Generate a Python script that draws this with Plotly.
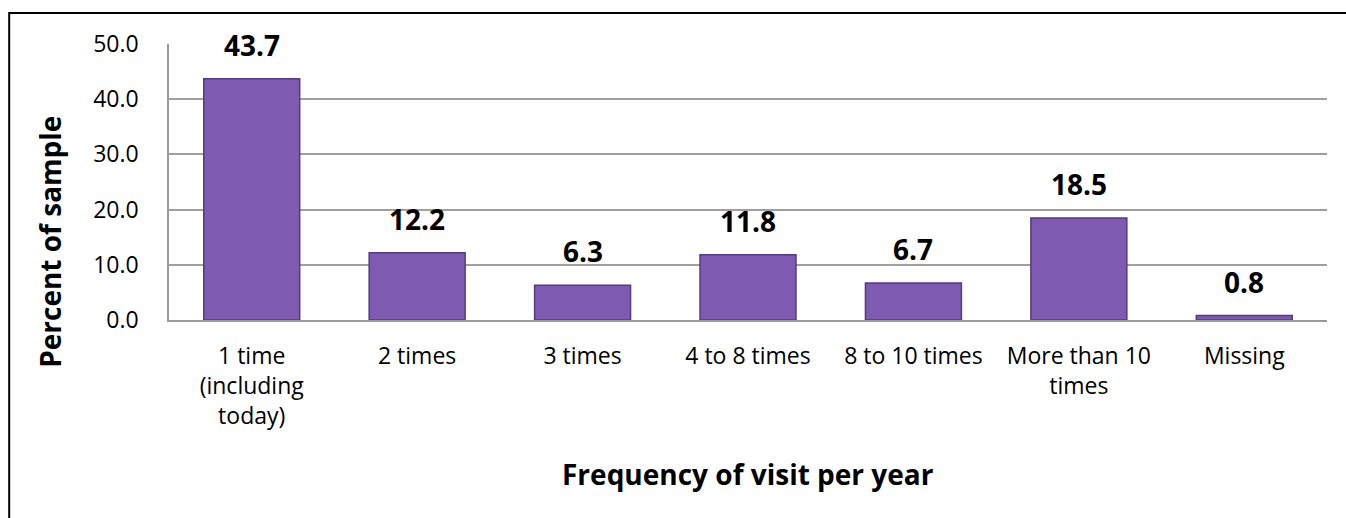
import plotly.graph_objects as go

categories = ["1 time<br>(including<br>today)", "2 times", "3 times", "4 to 8 times",
              "8 to 10 times", "More than 10<br>times", "Missing"]
values = [43.7, 12.2, 6.3, 11.8, 6.7, 18.5, 0.8]
y_ticks = [0, 10, 20, 30, 40, 50]
y_tick_labels = ["0.0", "10.0", "20.0", "30.0", "40.0", "50.0"]

FONT = "'Open Sans', sans-serif"

fig = go.Figure()
fig.add_trace(go.Bar(
    x=categories, y=values,
    marker=dict(color="#7E5AB1", line=dict(color="#563A80", width=1.5)),
    width=0.58,
))

for c, v in zip(categories, values):
    fig.add_annotation(x=c, y=v, text="<b>%.1f</b>" % v, showarrow=False,
                       yanchor="bottom", yshift=13,
                       font=dict(family=FONT, size=28, color="black"))

# axis titles
fig.add_annotation(xref="paper", yref="paper", x=-0.1028, y=0.283,
                   text="<b>Percent of sample</b>", textangle=-90, showarrow=False,
                   xanchor="center", yanchor="middle",
                   font=dict(family=FONT, size=28, color="black"))
fig.add_annotation(xref="paper", yref="paper", x=0.5, y=-0.558,
                   text="<b>Frequency of visit per year</b>", showarrow=False,
                   xanchor="center", yanchor="middle",
                   font=dict(family=FONT, size=28, color="black"))

# outer chart border
fig.add_shape(type="rect", xref="paper", yref="paper",
              x0=-0.138, x1=1.03, y0=-0.75, y1=1.112,
              line=dict(color="black", width=2), fillcolor="rgba(0,0,0,0)")

fig.update_layout(
    width=1346, height=518,
    margin=dict(l=169, r=19, t=44, b=198),
    plot_bgcolor="white", paper_bgcolor="white",
    showlegend=False,
    font=dict(family=FONT, size=23, color="black"),
    xaxis=dict(
        showgrid=False, showline=True, linecolor="#9A9A9A", linewidth=1.5,
        ticks="", ticklabelstandoff=15, tickfont=dict(family=FONT, size=23, color="black"),
    ),
    yaxis=dict(
        range=[0, 50], tickvals=y_ticks, ticktext=y_tick_labels,
        showgrid=True, gridcolor="#A0A0A0", gridwidth=1.5,
        showline=True, linecolor="#9A9A9A", linewidth=1.5,
        ticks="", ticklabelstandoff=24, zeroline=False,
        tickfont=dict(family=FONT, size=23, color="black"),
    ),
)

fig.write_html("out.html")
